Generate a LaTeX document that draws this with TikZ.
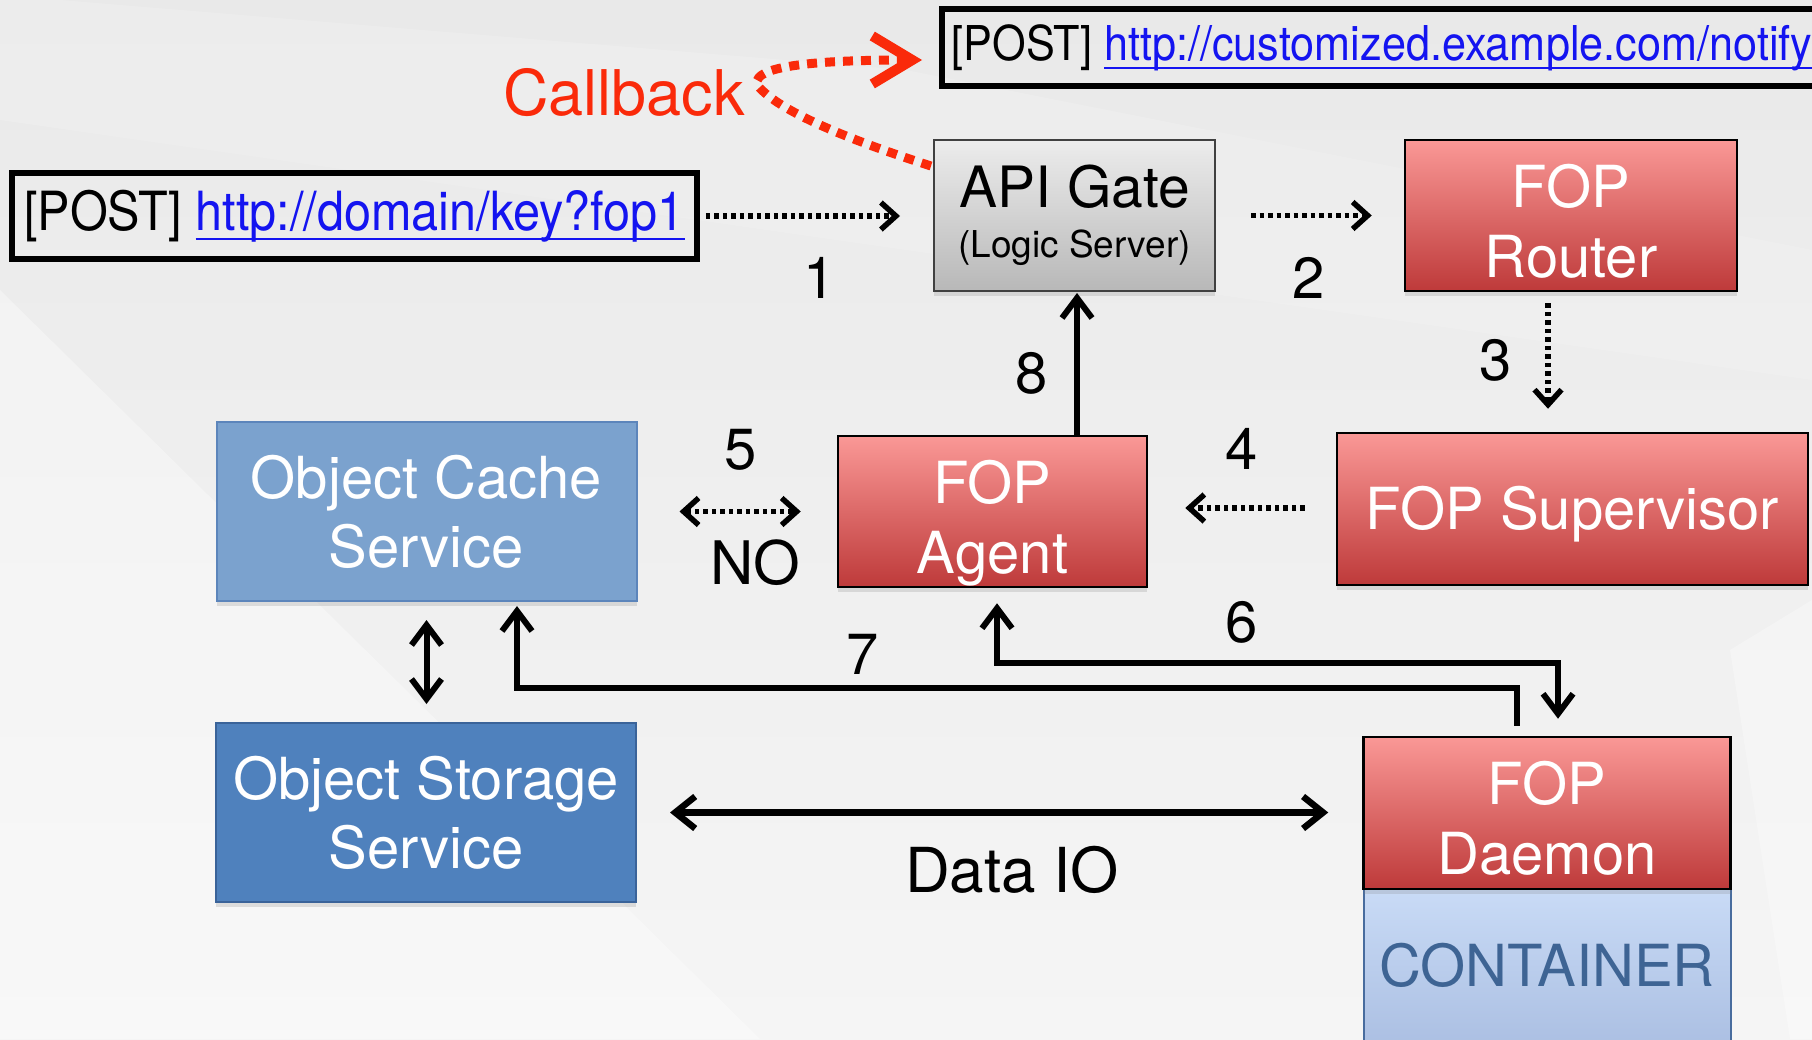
\documentclass[tikz,border=0pt]{standalone}
\usepackage{fontspec}
\setmainfont{TeX Gyre Heros}
\newfontfamily\condfont[FakeStretch=0.9]{TeX Gyre Heros}
\usetikzlibrary{arrows.meta,shadows,calc}
\definecolor{redtop}{RGB}{250,152,150}
\definecolor{redbot}{RGB}{190,58,58}
\definecolor{cachefill}{RGB}{123,162,206}
\definecolor{cacheline}{RGB}{92,133,187}
\definecolor{storefill}{RGB}{79,129,189}
\definecolor{storeline}{RGB}{58,99,153}
\definecolor{graytop}{RGB}{236,236,236}
\definecolor{graybot}{RGB}{184,184,184}
\definecolor{conttop}{RGB}{201,219,246}
\definecolor{contbot}{RGB}{172,192,227}
\definecolor{contline}{RGB}{72,108,158}
\definecolor{conttext}{RGB}{62,100,148}
\definecolor{linkblue}{RGB}{20,20,240}
\definecolor{cbred}{RGB}{250,42,10}
\definecolor{bgtop}{RGB}{233,233,233}
\definecolor{bgbot}{RGB}{245,245,245}
\newcommand{\fsBig}{\fontsize{58}{70}\selectfont}
\newcommand{\tstrut}{\rule{0pt}{54pt}}
\newcommand{\linkul}[2]{\setbox0\hbox{#2}\rlap{\rule[#1]{\wd0}{2.6pt}}\box0}
\tikzset{
  boxshadow/.style={drop shadow={opacity=0.22,shadow xshift=0pt,shadow yshift=-5pt}},
  redbox/.style={draw=black,line width=2.5pt,top color=redtop,bottom color=redbot,
    text=white,font=\fsBig,align=center,inner sep=0pt,boxshadow},
  cachebox/.style={draw=cacheline,line width=2pt,fill=cachefill,text=white,
    font=\fontsize{58}{69}\selectfont,align=center,inner sep=0pt,boxshadow},
  storebox/.style={draw=storeline,line width=2pt,fill=storefill,text=white,
    font=\fontsize{58}{69}\selectfont,align=center,inner sep=0pt,boxshadow},
  graybox/.style={draw=black!75,line width=2pt,top color=graytop,bottom color=graybot,
    inner sep=0pt,boxshadow},
  contbox/.style={draw=contline,line width=2pt,top color=conttop,bottom color=contbot,
    text=conttext,font=\fontsize{58}{60}\selectfont,inner sep=0pt},
  postbox/.style={draw=black,line width=5.5pt,inner sep=0pt},
  numlbl/.style={font=\fontsize{58}{58}\selectfont,text=black,inner sep=0pt},
  solidarrow/.style={line width=6pt,-{Straight Barb[length=20pt,width=30pt]}},
  dualsolid/.style={line width=6pt,{Straight Barb[length=20pt,width=30pt]}-{Straight Barb[length=20pt,width=30pt]}},
  dotarrow/.style={line width=5.5pt,dash pattern=on 4.5pt off 4pt,
    -{Straight Barb[length=15pt,width=27pt]}},
  dualdot/.style={line width=5.5pt,dash pattern=on 4.5pt off 4pt,
    {Straight Barb[length=15pt,width=27pt]}-{Straight Barb[length=15pt,width=27pt]}},
  cbarrow/.style={cbred,line width=9pt,dash pattern=on 10pt off 8pt,
    -{Straight Barb[length=40pt,width=48pt,line width=10pt]}}
}
\begin{document}
\begin{tikzpicture}[x=1pt,y=-1pt]
\useasboundingbox (0,0) rectangle (1812,1039);
\clip (0,0) rectangle (1812,1039);
% background
\shade[top color=bgtop,bottom color=bgbot] (0,0) rectangle (1812,1039);
\fill[white,opacity=0.35] (0,290) -- (760,1039) -- (0,1039) -- cycle;
\fill[white,opacity=0.15] (60,0) -- (906,70) -- (1812,250) -- (1812,380) -- (0,120) -- (0,0) -- cycle;
\fill[white,opacity=0.3] (1730,650) -- (1812,600) -- (1812,1039) -- (1790,1039) -- cycle;

% request boxes
\node[postbox,minimum width=685pt,minimum height=86pt] (post1) at (354.5,216)
  {\condfont\fontsize{54}{54}\selectfont [POST] \textcolor{linkblue}{\linkul{-10pt}{http://domain/key?fop1}}};
\node[postbox,anchor=west,inner xsep=10pt,minimum height=77pt] (post2) at (939,47.5)
  {\condfont\fontsize{48}{48}\selectfont [POST] \textcolor{linkblue}{\linkul{-9pt}{http://customized.example.com/notify}}\hspace*{60pt}};

% main boxes
\node[graybox,minimum width=281pt,minimum height=151pt] (api) at (1074.5,215.5) {};
\node[font=\fontsize{57}{57}\selectfont,inner sep=0pt] (apit) at (1074.5,187) {API Gate};
\node[font=\fontsize{37}{37}\selectfont,inner sep=0pt] (apis) at (1074.5,248) {(Logic Server)};
\node[redbox,minimum width=332pt,minimum height=151pt] (router) at (1571,215.5) {\tstrut FOP\\Router};
\node[redbox,minimum width=471pt,minimum height=152pt] (super) at (1572.5,509) {\tstrut FOP Supervisor};
\node[redbox,minimum width=309pt,minimum height=151pt] (agent) at (992.5,511.5) {\tstrut FOP\\A\smash{g}ent};
\node[cachebox,minimum width=420pt,minimum height=179pt] (cache) at (426.5,511.5) {Object Cache\\Service};
\node[storebox,minimum width=420pt,minimum height=179pt] (storage) at (426,812.5) {Object Storage\\Service};
\node[contbox,minimum width=367pt,minimum height=154pt] (cont) at (1547,965) {CONTAINER};
\node[redbox,minimum width=367pt,minimum height=152pt] (daemon) at (1547,813) {\tstrut FOP\\Daemon};

% labels
\node[numlbl] (l1) at (820,278) {1};
\node[numlbl] (l2) at (1309,278) {2};
\node[numlbl] (l3) at (1496,360) {3};
\node[numlbl] (l4) at (1242,449) {4};
\node[numlbl] (l5) at (741,450) {5};
\node[numlbl,font=\fontsize{60}{60}\selectfont] (lno) at (755,563) {NO};
\node[numlbl] (l6) at (1242,622) {6};
\node[numlbl] (l7) at (863,654) {7};
\node[numlbl] (l8) at (1032,373) {8};
\node[numlbl,font=\fontsize{62}{62}\selectfont] (ldata) at (1012,870) {Data IO};
\node[numlbl,text=cbred,font=\fontsize{63}{63}\selectfont] (lcb) at (624,93) {Callback};

% connectors
\draw[dotarrow,shorten <=6pt,shorten >=33pt] (post1.east) -- (post1.east -| api.west);
\draw[dotarrow,shorten <=35pt,shorten >=32pt] (api.east) -- (api.east -| router.west);
\draw[dotarrow,shorten <=11pt,shorten >=23pt] ([xshift=-23pt]router.south) -- ([xshift=-23pt]router.south |- super.north);
\draw[dotarrow,shorten <=31pt,shorten >=37pt] ([yshift=1pt]super.west) -- ([yshift=1pt]super.west -| agent.east);
\draw[dualdot,shorten <=42pt,shorten >=36pt] (cache.east) -- (cache.east -| agent.west);
\draw[solidarrow,shorten >=1pt] ([xshift=84.5pt]agent.north) -- ([xshift=84.5pt]agent.north |- api.south);
\draw[dualsolid,shorten <=18pt,shorten >=18pt] (cache.south) -- (cache.south |- storage.north);
\draw[solidarrow] ([xshift=-30pt,yshift=10pt]daemon.north) -- ++(0,-38) -| ([xshift=90.5pt,yshift=-4pt]cache.south);
\draw[dualsolid] ([xshift=4.5pt,yshift=-15pt]agent.south) -- ++(0,60) -| ([xshift=11pt,yshift=17pt]daemon.north);
\draw[line width=6.5pt,{Straight Barb[length=20pt,width=32pt]}-{Straight Barb[length=20pt,width=32pt]},shorten <=33pt,shorten >=34pt] (storage.east) -- (storage.east -| daemon.west);
\draw[cbarrow] ([xshift=-2pt,yshift=-27pt]api.north west) .. controls (850,140) and (780,112) .. (758,86) .. controls (750,70) and (790,60) .. ([xshift=-17pt,yshift=-12.5pt]post2.west);
\end{tikzpicture}
\end{document}
